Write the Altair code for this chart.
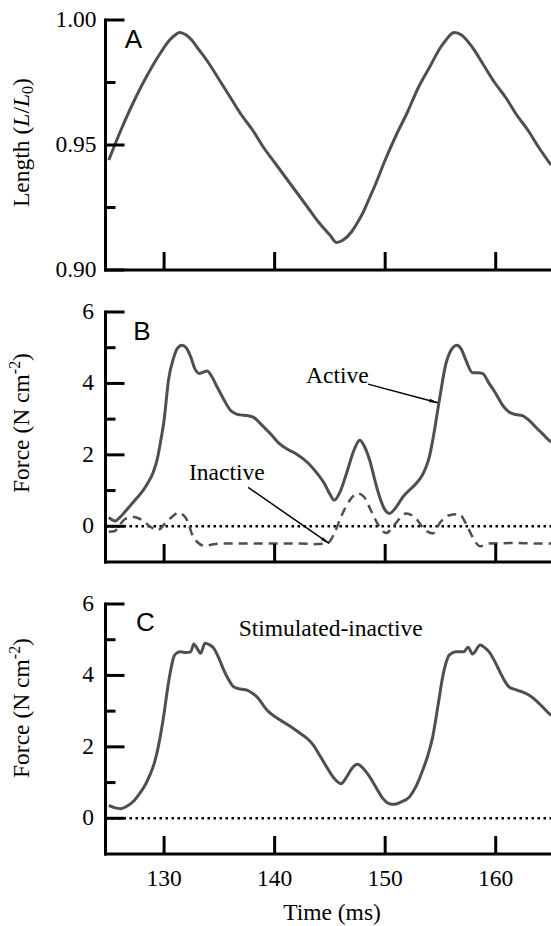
import math
import altair as alt
import pandas as pd

# ---- length trace (L/L0) ----
length_time = [125.0, 126.0, 127.0, 128.0, 129.0, 129.7, 130.5, 131.0, 131.4, 132.0, 132.5, 133.0,
               134.0, 135.0, 136.0, 137.0, 138.0, 139.0, 140.0, 141.0, 142.0, 143.0, 144.0, 145.0,
               145.6, 146.2, 147.0, 147.5, 148.0, 148.6, 149.0, 150.0, 151.0, 152.0, 153.0, 154.0,
               155.0, 155.5, 156.0, 156.3, 156.9, 157.9, 158.9, 159.9, 160.9, 161.9, 162.9, 163.9,
               165.0]
length_value = [0.944, 0.955, 0.965, 0.974, 0.982, 0.987, 0.992, 0.994, 0.995, 0.994, 0.992, 0.989,
                0.983, 0.976, 0.969, 0.962, 0.956, 0.949, 0.943, 0.937, 0.931, 0.925, 0.919, 0.914,
                0.911, 0.912, 0.9155, 0.919, 0.923, 0.929, 0.933, 0.944, 0.954, 0.963, 0.973, 0.981,
                0.989, 0.992, 0.9945, 0.995, 0.994, 0.989, 0.982, 0.975, 0.969, 0.962, 0.956, 0.949,
                0.942]

# ---- active force ----
active_time = [125.0, 125.3, 125.6, 126.0, 126.5, 127.0, 127.5, 127.9, 128.5, 129.0, 129.4, 129.7,
               130.0, 130.4, 130.9, 131.2, 131.6, 132.0, 132.4, 132.8, 133.2, 133.9, 134.3, 134.8,
               135.4, 136.0, 136.5, 136.9, 137.5, 138.1, 138.7, 139.3, 139.6, 140.4, 141.2, 142.0,
               143.0, 143.8, 144.5, 145.0, 145.4, 145.9, 146.5, 147.2, 147.7, 148.1, 148.6, 149.1,
               149.5, 150.0, 150.4, 150.9, 151.6, 152.8, 153.3, 153.7, 154.0, 154.3, 154.9, 155.5,
               155.9, 156.5, 156.9, 157.3, 157.9, 158.4, 158.8, 159.4, 160.0, 160.6, 161.2, 161.8,
               162.4, 163.0, 163.6, 164.2, 164.8, 165.0]
active_force = [0.25, 0.18, 0.15, 0.25, 0.42, 0.60, 0.78, 0.92, 1.20, 1.50, 1.90, 2.40,
                2.97, 4.10, 4.75, 4.98, 5.07, 5.00, 4.75, 4.40, 4.28, 4.35, 4.20, 3.90,
                3.55, 3.25, 3.15, 3.12, 3.10, 3.05, 2.88, 2.69, 2.60, 2.32, 2.15, 2.02,
                1.78, 1.50, 1.20, 0.90, 0.73, 0.95, 1.48, 2.15, 2.41, 2.25, 1.85, 1.25,
                0.82, 0.45, 0.36, 0.50, 0.82, 1.20, 1.40, 1.66, 1.95, 2.41, 3.53, 4.56,
                4.90, 5.07, 4.95, 4.65, 4.30, 4.30, 4.28, 4.00, 3.72, 3.40, 3.20, 3.13,
                3.10, 2.97, 2.78, 2.60, 2.41, 2.36]

# ---- inactive force ----
inactive_time = [125.0, 125.5, 126.0, 126.5, 127.3, 128.0, 128.8, 129.4, 130.1, 130.7, 131.3, 131.9,
                 132.2, 132.5, 133.0, 133.7, 134.5, 136.0, 138.0, 140.0, 142.3, 143.5, 144.8, 145.4,
                 146.0, 146.8, 147.5, 148.1, 148.7, 149.5, 150.1, 150.8, 151.9, 152.8, 153.5, 154.3,
                 155.0, 155.8, 156.7, 157.3, 157.9, 158.6, 159.4, 161.8, 163.5, 165.0]
inactive_force = [-0.15, -0.14, 0.05, 0.21, 0.26, 0.17, -0.02, -0.11, 0.08, 0.26, 0.38, 0.26,
                  0.08, -0.20, -0.44, -0.55, -0.50, -0.48, -0.48, -0.48, -0.48, -0.50, -0.47, -0.20,
                  0.26, 0.73, 0.92, 0.82, 0.45, -0.02, -0.19, 0.03, 0.36, 0.21, -0.07, -0.20,
                  0.12, 0.31, 0.34, 0.08, -0.30, -0.56, -0.48, -0.47, -0.48, -0.48]

# ---- stimulated-inactive force ----
stim_time = [125.0, 125.5, 126.1, 126.7, 127.3, 127.8, 128.2, 128.7, 129.1, 129.6, 130.0, 130.3,
             130.6, 130.9, 131.2, 131.5, 132.0, 132.4, 132.7, 133.0, 133.3, 133.7, 134.1, 134.5,
             135.0, 135.4, 135.9, 136.3, 136.9, 137.5, 138.0, 138.4, 139.3, 140.5, 141.4, 142.3,
             143.0, 143.5, 144.1, 144.7, 145.3, 146.0, 146.5, 147.0, 147.5, 148.0, 148.6, 149.2,
             149.8, 150.3, 150.8, 151.4, 152.2, 152.8, 153.4, 153.9, 154.3, 154.8, 155.2, 155.5,
             155.8, 156.4, 157.1, 157.5, 157.9, 158.6, 159.0, 159.4, 159.9, 160.3, 160.8, 161.2,
             161.8, 162.4, 163.0, 163.6, 164.2, 164.8, 165.0]
stim_force = [0.36, 0.30, 0.27, 0.35, 0.50, 0.70, 0.88, 1.20, 1.53, 2.20, 2.94, 3.60,
              4.15, 4.54, 4.64, 4.66, 4.64, 4.66, 4.88, 4.75, 4.62, 4.90, 4.86, 4.76,
              4.45, 4.15, 3.85, 3.68, 3.62, 3.59, 3.50, 3.40, 3.03, 2.75, 2.58, 2.38,
              2.22, 2.05, 1.75, 1.44, 1.15, 0.97, 1.15, 1.40, 1.51, 1.40, 1.16, 0.85,
              0.55, 0.42, 0.39, 0.45, 0.60, 0.90, 1.35, 1.80, 2.28, 3.20, 3.96, 4.35,
              4.57, 4.66, 4.66, 4.79, 4.60, 4.85, 4.78, 4.66, 4.40, 4.15, 3.85, 3.68,
              3.60, 3.54, 3.45, 3.31, 3.13, 2.94, 2.88]

# ---- axis ticks ----
time_ticks = [130, 140, 150, 160]
length_major = [0.90, 0.95, 1.00]
length_minor = [0.925, 0.975]
force_major = [0, 2, 4, 6]
force_minor = [1, 3, 5]

# ---- annotations (time, force) ----
active_label = {"text": ["Active"], "t": [145.68], "v": [4.01]}
active_arrow = {"t": [148.44], "v": [3.98], "t2": [154.76], "v2": [3.46]}
inactive_label = {"text": ["Inactive"], "t": [135.68], "v": [1.29]}
inactive_arrow = {"t": [137.6], "v": [1.09], "t2": [144.92], "v2": [-0.48]}
stim_label = {"text": ["Stimulated-inactive"], "t": [145.07], "v": [5.10]}

SERIF = "Liberation Serif"
SANS = "Liberation Sans"
INK = "#4f4f4f"
FS = 23.5
SUB = 16
W = 445.5          # plot width, runs to the right edge of the page
H = 250            # height of each panel
GAP = 42           # gap between panels
TOTAL_H = 906
TIME_DOMAIN = [124.7, 165.0]
FORCE_DOMAIN = [-1, 6]
LENGTH_DOMAIN = [0.90, 1.00]
HEAD = "M0,0L0.35,1.7L-0.35,1.7Z"

x_scale = alt.Scale(domain=TIME_DOMAIN, nice=False, zero=False)


def y_scale(domain, oy):
    # each panel maps its own domain onto its own vertical band
    return alt.Scale(domain=domain, range=[oy + H, oy], nice=False, zero=False)


def one_row(**cols):
    return pd.DataFrame({k: [v] for k, v in cols.items()})


def frame(oy):
    left = alt.Chart(one_row(k=0)).mark_rule(color="black", strokeWidth=3).encode(
        x=alt.value(0), y=alt.value(oy - 1.5), y2=alt.value(oy + H + 1.5))
    bottom = alt.Chart(one_row(k=0)).mark_rule(color="black", strokeWidth=3).encode(
        x=alt.value(-1.5), x2=alt.value(W), y=alt.value(oy + H))
    return [left, bottom]


def y_labels(values, ys, fmt, offset):
    return alt.Chart(pd.DataFrame({"v": values})).mark_text(
        font=SERIF, fontSize=FS, color="black", align="right", baseline="middle").encode(
        text=alt.Text("v:Q", format=fmt),
        y=alt.Y("v:Q", scale=ys, axis=None),
        x=alt.value(offset))


def x_labels(oy):
    labels = alt.Chart(pd.DataFrame({"t": time_ticks})).mark_text(
        font=SERIF, fontSize=FS, color="black", align="center", baseline="alphabetic").encode(
        text=alt.Text("t:Q", format="d"),
        x=alt.X("t:Q", scale=x_scale, axis=None),
        y=alt.value(oy + H + 32))
    title = alt.Chart(one_row(s="Time (ms)")).mark_text(
        font=SERIF, fontSize=FS, color="black", align="center", baseline="alphabetic").encode(
        text="s:N", x=alt.value(226.5), y=alt.value(oy + H + 66))
    return [labels, title]


def curve(t, v, ys, dash=None, width=3.0):
    kw = dict(color=INK, strokeWidth=width, interpolate="monotone", clip=True)
    if dash:
        kw["strokeDash"] = dash
    return alt.Chart(pd.DataFrame({"t": t, "v": v})).mark_line(**kw).encode(
        x=alt.X("t:Q", scale=x_scale, axis=None),
        y=alt.Y("v:Q", scale=ys, axis=None),
    )


def y_ticks(values, ys, length):
    return alt.Chart(pd.DataFrame({"v": values})).mark_rule(
        color="black", strokeWidth=3).encode(
        y=alt.Y("v:Q", scale=ys, axis=None),
        x=alt.value(0), x2=alt.value(length))


def x_ticks(oy):
    return alt.Chart(pd.DataFrame({"t": time_ticks})).mark_rule(
        color="black", strokeWidth=3).encode(
        x=alt.X("t:Q", scale=x_scale, axis=None),
        y=alt.value(oy + H), y2=alt.value(oy + H - 18))


def zero_line(ys):
    return alt.Chart(one_row(v=0)).mark_rule(
        color="black", strokeWidth=2.5, strokeDash=[2.5, 3.5]).encode(
        y=alt.Y("v:Q", scale=ys, axis=None),
        x=alt.value(0), x2=alt.value(W))


def letter(ch, px, py):
    return alt.Chart(one_row(s=ch)).mark_text(
        font=SANS, fontSize=26, color="black", align="center", baseline="middle").encode(
        text="s:N", x=alt.value(px), y=alt.value(py))


def vertical_title(parts, px, py):
    # pieces of a rotated title, laid out along the reading direction with dx
    out = []
    for text, dx, dy, size, style in parts:
        out.append(alt.Chart(one_row(s=text)).mark_text(
            angle=270, align="left", baseline="alphabetic", dx=dx, dy=dy,
            font=SERIF, fontSize=size, fontStyle=style, color="black").encode(
            text="s:N", x=alt.value(px), y=alt.value(py)))
    return out


def note(label, ys):
    return alt.Chart(pd.DataFrame(label)).mark_text(
        font=SERIF, fontSize=FS, color="black", align="center", baseline="alphabetic").encode(
        text="text:N",
        x=alt.X("t:Q", scale=x_scale, axis=None),
        y=alt.Y("v:Q", scale=ys, axis=None))


def arrow(spec, ys, ydom):
    df = pd.DataFrame(spec)
    sx = W / (TIME_DOMAIN[1] - TIME_DOMAIN[0])
    sy = H / (ydom[1] - ydom[0])
    ddx = (df["t2"] - df["t"]) * sx
    ddy = -(df["v2"] - df["v"]) * sy
    df["a"] = [math.degrees(math.atan2(a, -b)) % 360 for a, b in zip(ddx, ddy)]
    shaft = alt.Chart(df).mark_rule(color="black", strokeWidth=1.5).encode(
        x=alt.X("t:Q", scale=x_scale, axis=None), x2="t2:Q",
        y=alt.Y("v:Q", scale=ys, axis=None), y2="v2:Q")
    head = alt.Chart(df).mark_point(shape=HEAD, filled=True, size=100, color="black",
                                    opacity=1).encode(
        x=alt.X("t2:Q", scale=x_scale, axis=None),
        y=alt.Y("v2:Q", scale=ys, axis=None),
        angle=alt.Angle("a:Q", scale=None))
    return [shaft, head]


LEN_TITLE = [("Length (", 0, 0, FS, "normal"), ("L", 80.3, 0, FS, "italic"),
             ("/", 93.4, 0, FS, "normal"), ("L", 99.9, 0, FS, "italic"),
             ("0", 113.0, 4, SUB, "normal"), (")", 121.0, 0, FS, "normal")]
FORCE_TITLE = [("Force (N cm", 0, 0, FS, "normal"), ("-2", 118.8, -9, SUB, "normal"),
               (")", 132.1, 0, FS, "normal")]
TITLE_X = -76.5

OY_A, OY_B, OY_C = 0, H + GAP, 2 * (H + GAP)

# Panel A: length
ys_a = y_scale(LENGTH_DOMAIN, OY_A)
layers_a = [
    curve(length_time, length_value, ys_a),
    *frame(OY_A),
    y_ticks(length_major, ys_a, 19),
    y_ticks(length_minor, ys_a, 10),
    x_ticks(OY_A),
    y_labels(length_major, ys_a, ".2f", -9),
    letter("A", 28, OY_A + 20),
    *vertical_title(LEN_TITLE, TITLE_X, OY_A + 187),
]

# Panel B: active and inactive force
ys_b = y_scale(FORCE_DOMAIN, OY_B)
layers_b = [
    zero_line(ys_b),
    curve(inactive_time, inactive_force, ys_b, dash=[9, 6], width=2.5),
    curve(active_time, active_force, ys_b),
    *frame(OY_B),
    y_ticks(force_major, ys_b, 19),
    y_ticks(force_minor, ys_b, 10),
    x_ticks(OY_B),
    y_labels(force_major, ys_b, "d", -11.5),
    letter("B", 36.5, OY_B + 19.5),
    note(active_label, ys_b),
    note(inactive_label, ys_b),
    *arrow(active_arrow, ys_b, FORCE_DOMAIN),
    *arrow(inactive_arrow, ys_b, FORCE_DOMAIN),
    *vertical_title(FORCE_TITLE, TITLE_X, OY_B + 181),
]

# Panel C: stimulated-inactive force
ys_c = y_scale(FORCE_DOMAIN, OY_C)
layers_c = [
    zero_line(ys_c),
    curve(stim_time, stim_force, ys_c),
    *frame(OY_C),
    y_ticks(force_major, ys_c, 19),
    y_ticks(force_minor, ys_c, 10),
    x_ticks(OY_C),
    *x_labels(OY_C),
    y_labels(force_major, ys_c, "d", -11.5),
    letter("C", 40, OY_C + 19),
    note(stim_label, ys_c),
    *vertical_title(FORCE_TITLE, TITLE_X, OY_C + 174),
]

chart = alt.layer(*layers_a, *layers_b, *layers_c).resolve_scale(
    y="independent"
).properties(
    width=W,
    height=TOTAL_H,
    autosize=alt.AutoSizeParams(type="none"),
    padding={"left": 105.5, "top": 20, "right": 0, "bottom": 0},
    background="white",
).configure_view(stroke=None)

chart.save("out.html", embed_options={"renderer": "svg", "actions": False})
